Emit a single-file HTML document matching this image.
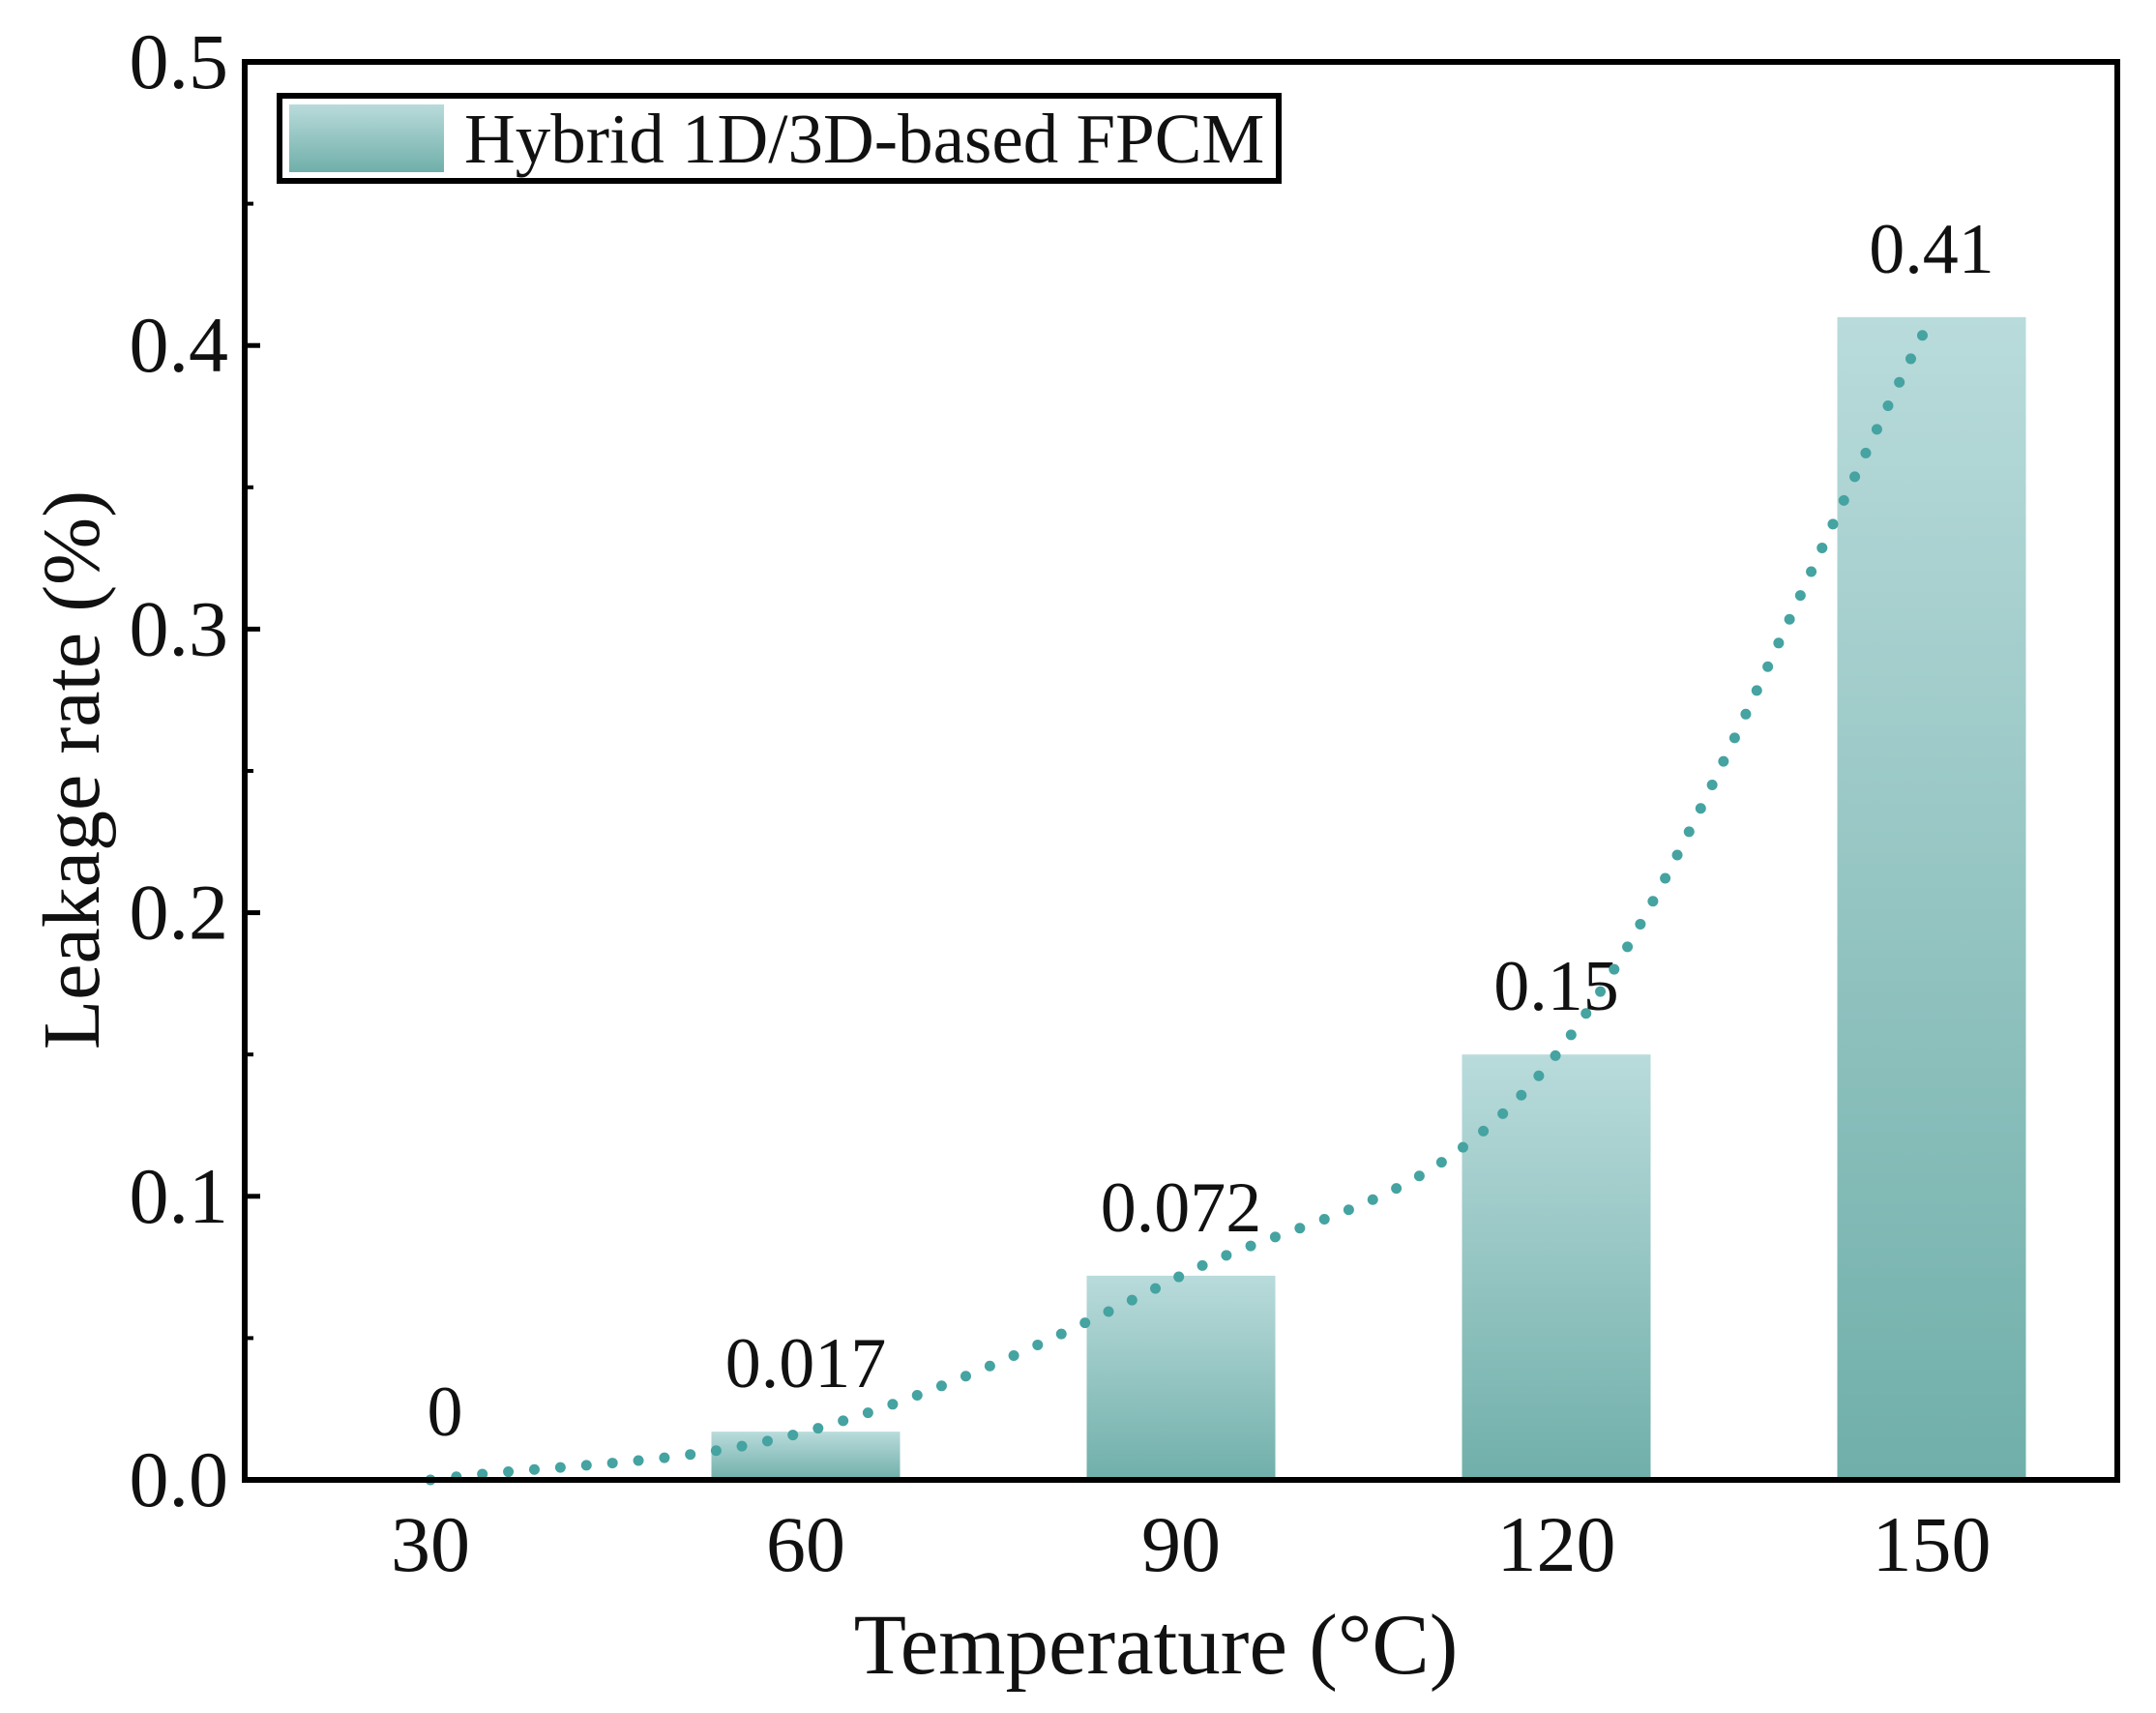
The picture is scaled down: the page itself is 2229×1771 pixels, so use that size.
<!DOCTYPE html>
<html><head><meta charset="utf-8"><style>
html,body{margin:0;padding:0;background:#fff;}
svg{display:block;font-family:"Liberation Serif",serif;}
</style></head><body>
<svg id="chart" width="2229" height="1771" viewBox="0 0 2229 1771">
<defs>
<linearGradient id="barGrad" x1="0" y1="0" x2="0" y2="1">
<stop offset="0" stop-color="#b9dbdb"/><stop offset="1" stop-color="#70afaa"/>
</linearGradient>
</defs>
<g id="plot"></g>
</svg>
<script>
const categories = ["30","60","90","120","150"];
const values = [0, 0.017, 0.072, 0.15, 0.41];
const valueLabels = ["0","0.017","0.072","0.15","0.41"];
const yTicks = [0, 0.1, 0.2, 0.3, 0.4, 0.5];
const yTickLabels = ["0.0","0.1","0.2","0.3","0.4","0.5"];

const L=253, R=2189, T=64, B=1530, yMax=0.5;
const x0=445, step=388, barW=195;
const xs = i => x0 + i*step;
const ys = v => B - (v/yMax)*(B-T);
const NS="http://www.w3.org/2000/svg";
const g=document.getElementById('plot');
function mk(tag, attrs, parent){const e=document.createElementNS(NS,tag);for(const k in attrs)e.setAttribute(k,attrs[k]);(parent||g).appendChild(e);return e;}

// bars
values.forEach((v,i)=>{
  const h=B-ys(v);
  if(h>0){
    const r=mk('rect',{x:xs(i)-barW/2,y:ys(v),width:barW,height:h,fill:'url(#barGrad)'});
    
    
  }
  const t=mk('text',{x:xs(i)+(i===0?15:0),y:ys(v)-46,'font-size':74,'text-anchor':'middle',fill:'#111'});
  t.textContent=valueLabels[i];
  
  
});

// trend curve (monotone cubic through data points)
const pts=values.map((v,i)=>[xs(i),ys(v)]);
let d='M'+pts[0][0]+','+pts[0][1];
const n=pts.length, m=[];
const dk=[];for(let i=0;i<n-1;i++)dk.push((pts[i+1][1]-pts[i][1])/(pts[i+1][0]-pts[i][0]));
for(let i=0;i<n;i++){m.push(i===0?dk[0]:i===n-1?dk[n-2]:(dk[i-1]*dk[i]<=0?0:(dk[i-1]+dk[i])/2));}
for(let i=0;i<n-1;i++){const h=pts[i+1][0]-pts[i][0];
  d+=' C'+(pts[i][0]+h/3)+','+(pts[i][1]+m[i]*h/3)+' '+(pts[i+1][0]-h/3)+','+(pts[i+1][1]-m[i+1]*h/3)+' '+pts[i+1][0]+','+pts[i+1][1];}
const c=mk('path',{d:d,fill:'none',stroke:'#45a3a1','stroke-width':11,'stroke-linecap':'round','stroke-dasharray':'0 27'});



// axes frame
const f=mk('rect',{x:L,y:T,width:R-L,height:B-T,fill:'none',stroke:'#000','stroke-width':6});



// y ticks
yTicks.forEach((v,i)=>{
  mk('line',{x1:L,x2:L+16,y1:ys(v),y2:ys(v),stroke:'#000','stroke-width':5});
  if(i<yTicks.length-1) mk('line',{x1:L,x2:L+9,y1:ys(v+0.05),y2:ys(v+0.05),stroke:'#000','stroke-width':4});
  const t=mk('text',{x:L-17,y:ys(v)+27,'font-size':82,'text-anchor':'end',fill:'#111'});
  t.textContent=yTickLabels[i];
  
  
});
// x labels
categories.forEach((cat,i)=>{
  const t=mk('text',{x:xs(i),y:B+94,'font-size':82,'text-anchor':'middle',fill:'#111'});
  t.textContent=cat;
  
  
});
// titles
const xt=mk('text',{x:1195,y:1730,'font-size':89,'text-anchor':'middle',fill:'#111'});
xt.textContent='Temperature (°C)';


const yt=mk('text',{x:0,y:0,'font-size':84,'text-anchor':'middle',fill:'#111',transform:'translate(102,796) rotate(-90)'});
yt.textContent='Leakage rate (%)';



// legend
const lg=mk('g',{});


mk('rect',{x:289,y:99,width:1033,height:88,fill:'#fff',stroke:'#000','stroke-width':6},lg);
const sw=mk('rect',{x:299,y:108,width:160,height:70,fill:'url(#barGrad)'},lg);


const lt=mk('text',{x:480,y:168,'font-size':73,fill:'#111'},lg);
lt.textContent='Hybrid 1D/3D-based FPCM';


</script>
</body></html>
